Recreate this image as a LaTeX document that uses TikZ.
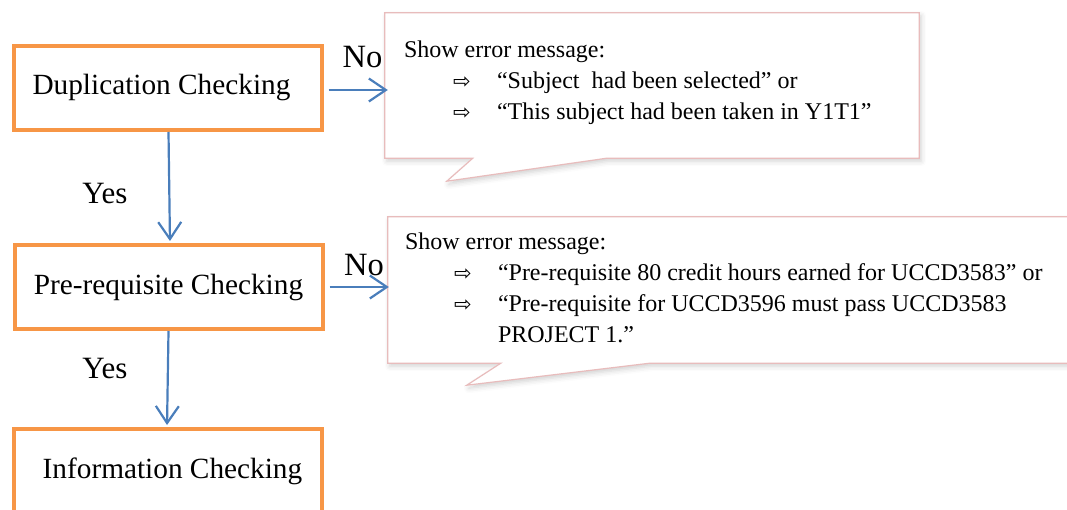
\documentclass[tikz,border=0pt]{standalone}
\usepackage{fontspec}
\setmainfont{Liberation Serif}
\newfontfamily\arrowfont{DejaVu Sans}
\usetikzlibrary{arrows.meta,shadows.blur}

\definecolor{boxorange}{RGB}{247,150,70}
\definecolor{flowblue}{RGB}{74,126,187}
\definecolor{bubbleedge}{RGB}{232,188,188}

% indented hollow-arrow bullet used in the error messages
\newcommand{\msgitem}{\hspace*{49pt}\makebox[44pt][l]{\arrowfont\fontsize{21}{31}\selectfont ⇨}}

\begin{document}
\begin{tikzpicture}[
  x=1pt, y=-1pt,
  checkbox/.style={draw=boxorange, line width=4pt, fill=white,
    minimum width=308pt, minimum height=84pt, inner sep=0pt,
    font=\fontsize{29.3}{34}\selectfont},
  flow/.style={draw=flowblue, line width=2.2pt,
    -{Straight Barb[length=17pt,width=23pt,line width=2.2pt]}},
  lbl/.style={inner sep=0pt, font=\fontsize{31}{34}\selectfont},
  nolbl/.style={inner sep=0pt, font=\fontsize{32.5}{34}\selectfont},
  bubblebody/.style={inner sep=0pt},
  bubble/.style={draw=bubbleedge, line width=1.2pt, fill=white,
    blur shadow={shadow xshift=2pt, shadow yshift=-3pt,
      shadow blur radius=5pt, shadow opacity=18}},
  msgtext/.style={inner sep=0pt, align=left,
    font=\fontsize{24}{31}\selectfont},
]
\useasboundingbox (0,0) rectangle (1067,510);

% checking steps
\node[checkbox] (dup)  at (167.5,88)  {Duplication Checking\hspace*{12pt}};
\node[checkbox] (pre)  at (168.5,287) {Pre-requisite Checking};
\node[checkbox] (info) at (167.5,471) {\hspace*{10pt}Information Checking};

% first error callout
\node[bubblebody, minimum width=534pt, minimum height=145pt] (msg1) at (652,85.5) {};
\path[bubble] (msg1.north west) -- (msg1.north east) -- (msg1.south east)
  -- ([xshift=222pt]msg1.south west) -- ([shift={(62pt,-23pt)}]msg1.south west)
  -- ([xshift=88pt]msg1.south west) -- (msg1.south west) -- cycle;
\node[msgtext, anchor=north west] (msg1text) at ([shift={(19pt,-27.5pt)}]msg1.north west)
  {Show error message:\\
   \msgitem “Subject\ \ had been selected” or\\
   \msgitem “This subject had been taken in Y1T1”};

% second error callout (runs off the right side)
\node[bubblebody, minimum width=692pt, minimum height=146pt] (msg2) at (734,290) {};
\path[bubble] (msg2.north west) -- (msg2.north east) -- (msg2.south east)
  -- ([xshift=262pt]msg2.south west) -- ([shift={(79pt,-22pt)}]msg2.south west)
  -- ([xshift=113pt]msg2.south west) -- (msg2.south west) -- cycle;
\node[msgtext, anchor=north west] (msg2text) at ([shift={(17pt,-15.5pt)}]msg2.north west)
  {Show error message:\\
   \msgitem “Pre-requisite 80 credit hours earned for UCCD3583” or\\
   \msgitem “Pre-requisite for UCCD3596 must pass UCCD3583\\
   \hspace*{93pt}PROJECT 1.”};

% connectors
\draw[flow, shorten <=5pt, shorten >=-3pt] ([yshift=-2pt]dup.east) -- ([yshift=-2pt]dup.east -| msg1.west);
\draw[flow, shorten <=5pt, shorten >=-1pt] (pre.east) -- (pre.east -| msg2.west);
\draw[flow, shorten >=2pt] ([xshift=1pt]dup.south) -- ([xshift=1.5pt]pre.north);
\draw[flow, shorten >=2pt] (pre.south) -- ([xshift=-0.5pt]info.north);

% branch labels
\node[nolbl] (no1)  at (362.5,57) {No};
\node[nolbl] (no2)  at (364,265)  {No};
\node[lbl]   (yes1) at (105,194)  {Yes};
\node[lbl]   (yes2) at (105,369)  {Yes};
\end{tikzpicture}
\end{document}
